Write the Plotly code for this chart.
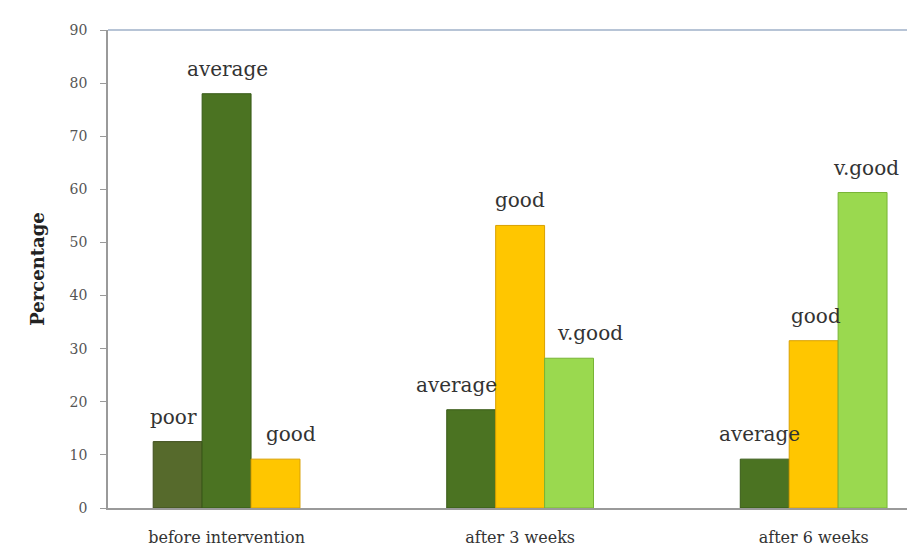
import plotly.graph_objects as go

# ---- data ----
groups = ["before intervention", "after 3 weeks", "after 6 weeks"]
slot1_labels = ["poor", "average", "average"]
slot1_values = [12.5, 18.5, 9.2]
slot2_labels = ["average", "good", "good"]
slot2_values = [78, 53.2, 31.5]
slot3_labels = ["good", "v.good", "v.good"]
slot3_values = [9.2, 28.2, 59.4]
y_ticks = [0, 10, 20, 30, 40, 50, 60, 70, 80, 90]

# ---- styles ----
label_colors = {
    "poor": "#566a2c",
    "average": "#4b7322",
    "good": "#ffc600",
    "v.good": "#9ad94f",
}
edge_colors = {
    "poor": "#3f4f1e",
    "average": "#375a16",
    "good": "#d9a000",
    "v.good": "#78b435",
}
label_dx = [[-4, -15, -5], [1, 0, 2], [15, 21, 3]]
SERIF = "DejaVu Serif"

slots = [(slot1_labels, slot1_values), (slot2_labels, slot2_values), (slot3_labels, slot3_values)]

fig = go.Figure()
for labels, values in slots:
    fig.add_trace(go.Bar(
        x=groups, y=values,
        marker=dict(color=[label_colors[l] for l in labels],
                    line=dict(color=[edge_colors[l] for l in labels], width=1)),
        text=labels, hoverinfo="x+y+text", textposition="none",
        showlegend=False,
    ))

nslots = len(slots)
bw = 0.5 / nslots
for s, (labels, values) in enumerate(slots):
    for g, (lab, val) in enumerate(zip(labels, values)):
        fig.add_annotation(
            x=g + (s - (nslots - 1) / 2) * bw, y=val, xref="x", yref="y",
            text=lab, showarrow=False, yanchor="bottom",
            yshift=11, xshift=label_dx[s][g],
            font=dict(family=SERIF, size=20, color="#333333"),
        )

fig.add_shape(type="line", xref="paper", yref="paper", x0=0, x1=1, y0=1, y1=1,
              line=dict(color="#9fb0c8", width=1.5))

fig.update_layout(
    width=907, height=555,
    margin=dict(l=108, r=0, t=30, b=47),
    paper_bgcolor="white", plot_bgcolor="white",
    barmode="group", bargap=0.5, bargroupgap=0,
    xaxis=dict(
        type="category", range=[-0.404, 2.318],
        showline=True, linecolor="#9a9a9a", linewidth=1.5,
        ticks="", showgrid=False, ticklabelstandoff=14,
        tickfont=dict(family=SERIF, size=16, color="#333333"),
    ),
    yaxis=dict(
        range=[0, 90], tickvals=y_ticks,
        showline=True, linecolor="#9a9a9a", linewidth=1.5,
        ticks="outside", ticklen=6, tickcolor="#9a9a9a",
        ticklabelstandoff=10,
        showgrid=False, zeroline=False,
        tickfont=dict(family=SERIF, size=14, color="#555555"),
        title=dict(text="<b>Percentage</b>", standoff=20,
                   font=dict(family=SERIF, size=18, color="#222222")),
    ),
)

fig.write_html("out.html")
